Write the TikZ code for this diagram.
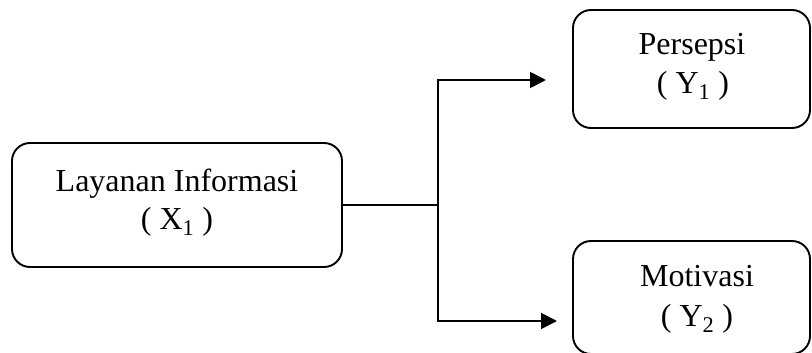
\documentclass[tikz,border=0pt]{standalone}
\usepackage{fontspec}
\setmainfont{Liberation Serif}
\usetikzlibrary{arrows.meta}
\begin{document}
\begin{tikzpicture}[x=1pt,y=-1pt,
  box/.style={draw, line width=1.9pt, rounded corners=18pt, inner sep=0pt},
  lbl/.style={font=\fontsize{32}{38}\selectfont, inner sep=0pt, anchor=base},
  conn/.style={line width=1.9pt},
  arr/.style={conn, -{Triangle[length=16pt,width=16pt]}}]
\useasboundingbox (0,0) rectangle (812,353);
% boxes
\node[box, minimum width=330pt, minimum height=124pt] (X) at (177,205) {};
\node[box, minimum width=237pt, minimum height=118pt] (Y1) at (691.5,69) {};
\node[box, minimum width=237pt, minimum height=113pt] (Y2) at (691.5,297.5) {};
% texts
\node[lbl] (tx1) at (177,191) {Layanan Informasi};
\node[lbl] (tx2) at (177,229) {( X\textsubscript{1} )};
\node[lbl] (ty1a) at (692,55) {Persepsi};
\node[lbl] (ty1b) at (693,93) {( Y\textsubscript{1} )};
\node[lbl] (ty2a) at (697,286) {Motivasi};
\node[lbl] (ty2b) at (697,326) {( Y\textsubscript{2} )};
% connectors
\coordinate (j) at (438,205);
\coordinate (e1) at (546,80);
\coordinate (e2) at (557,321);
\draw[conn] (X.east) -- (j);
\draw[arr] (j) |- (e1);
\draw[arr] (j) |- (e2);
\end{tikzpicture}
\end{document}
